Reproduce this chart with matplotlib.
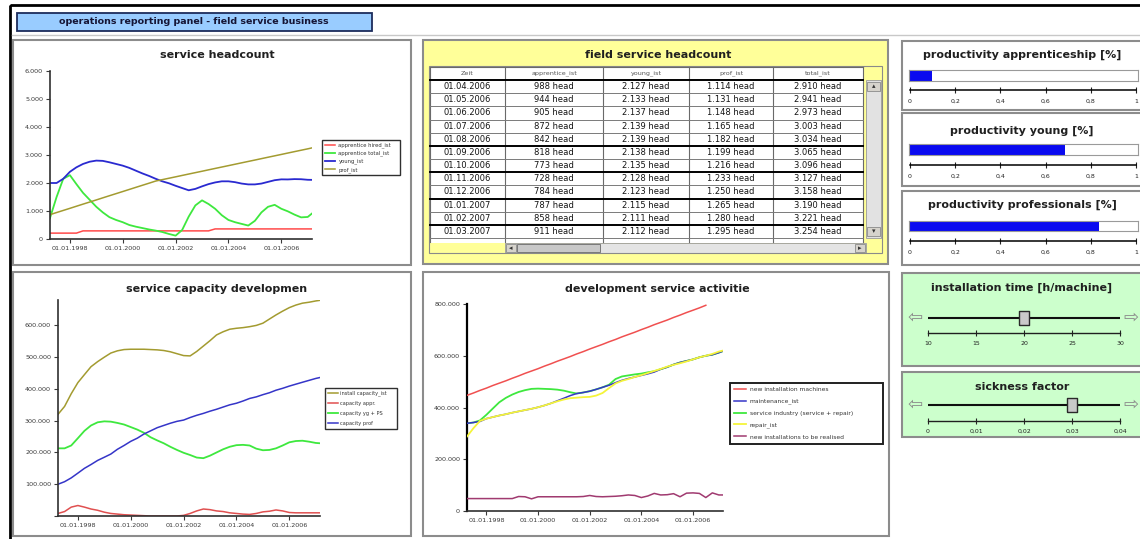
import numpy as np
import pandas as pd
import matplotlib
matplotlib.use('Agg')
import matplotlib.pyplot as plt
import matplotlib.dates as mdates
from matplotlib.patches import Rectangle
from matplotlib.ticker import FuncFormatter, MultipleLocator

# --- 1. Data ---
# quarterly reporting dates plus the last monthly close
dates = list(pd.date_range('1997-04-01', '2007-01-01', freq='QS')) + [pd.Timestamp('2007-03-01')]

# service headcount [head]
hc_appr_hired = [210, 210, 210, 210, 210, 290, 290, 290, 290, 290, 290, 290, 290, 290,
                 290, 290, 290, 290, 290, 290, 290, 290, 290, 290, 290, 360, 360, 360,
                 360, 360, 360, 360, 360, 360, 360, 360, 360, 360, 360, 360, 360]
hc_appr = [750, 1500, 2150, 2280, 1960, 1650, 1400, 1150, 950, 780, 680, 600, 500, 440,
           390, 340, 300, 250, 180, 120, 320, 800, 1200, 1380, 1250, 1080, 850, 680,
           600, 540, 480, 650, 950, 1150, 1220, 1080, 988, 872, 773, 787, 911]
hc_young = [2000, 2000, 2150, 2400, 2560, 2680, 2760, 2800, 2790, 2740, 2680, 2620, 2540,
            2440, 2340, 2250, 2150, 2060, 1990, 1900, 1820, 1740, 1790, 1880, 1960, 2020,
            2060, 2060, 2030, 1980, 1950, 1950, 1980, 2040, 2100, 2130, 2127, 2139, 2135,
            2115, 2112]
hc_prof = [870, 945, 1020, 1095, 1170, 1245, 1320, 1395, 1470, 1545, 1620, 1695, 1770,
           1845, 1920, 1995, 2070, 2120, 2170, 2220, 2270, 2320, 2370, 2420, 2470, 2520,
           2570, 2620, 2670, 2720, 2770, 2820, 2870, 2920, 2970, 3020, 3070, 3120, 3170,
           3220, 3254]

# service capacity development [thousand]
cap_install_k = [320, 345, 385, 420, 445, 470, 486, 500, 513, 520, 524, 525, 525, 525, 524,
                 523, 521, 517, 511, 505, 504, 518, 535, 552, 570, 580, 588, 591, 593, 596,
                 600, 607, 620, 633, 645, 656, 664, 670, 673, 677, 679]
cap_appr_k = [8, 14, 28, 33, 28, 22, 18, 12, 8, 6, 4, 3, 2, 1, 0, 0, 0, 0, 0, 2, 8, 16, 22,
              20, 16, 14, 10, 8, 6, 5, 8, 13, 15, 19, 16, 11, 10, 10, 10, 10, 10]
cap_young_k = [213, 213, 222, 245, 268, 285, 295, 298, 297, 293, 288, 280, 272, 262, 248,
               238, 229, 218, 208, 199, 192, 184, 182, 190, 200, 210, 218, 223, 224, 222,
               212, 207, 208, 213, 222, 232, 236, 237, 234, 230, 229]
cap_prof_k = [100, 108, 120, 135, 150, 162, 175, 185, 195, 210, 222, 235, 245, 258, 268,
              278, 285, 292, 298, 302, 310, 317, 323, 330, 336, 343, 350, 355, 362, 370,
              375, 382, 388, 396, 402, 409, 415, 421, 427, 433, 436]

# development service activities [thousand]
nan = np.nan
act_new_k = [447, 456, 466, 475, 485, 494, 503, 513, 522, 532, 541, 550, 560, 569, 579,
             588, 597, 607, 616, 626, 635, 644, 654, 663, 673, 682, 691, 701, 710, 720,
             729, 738, 748, 757, 767, 776, 785, 795, nan, nan, nan]
act_maint_k = [339, 342, 346, 357, 363, 369, 374, 380, 385, 390, 395, 401, 408, 416, 426,
               436, 446, 454, 458, 463, 470, 478, 486, 496, 505, 512, 518, 524, 530, 537,
               548, 556, 566, 574, 580, 586, 594, 600, 604, 612, 618]
act_service_k = [339, 342, 350, 372, 396, 420, 437, 450, 460, 467, 472, 473, 472, 471, 469,
                 465, 459, 454, 458, 463, 470, 478, 488, 510, 520, 524, 528, 531, 536, 540,
                 548, 556, 566, 574, 580, 586, 594, 600, 604, 612, 618]
act_repair_k = [288, 320, 348, 357, 363, 369, 374, 380, 385, 390, 395, 401, 408, 416, 424,
                431, 436, 438, 440, 441, 446, 456, 475, 493, 503, 510, 518, 525, 533, 541,
                549, 558, 565, 571, 578, 586, 594, 600, 607, 616, 620]
act_planned_k = [48, 48, 48, 48, 48, 48, 48, 48, 56, 55, 47, 55, 55, 55, 55, 55, 55, 55, 56,
                 60, 56, 55, 56, 57, 59, 62, 60, 52, 58, 68, 62, 63, 67, 55, 69, 70, 68, 52,
                 70, 62, 62]

# field service headcount table
tbl_header = ['Zeit', 'apprentice_ist', 'young_ist', 'prof_ist', 'total_ist']
tbl_dates = ['01.04.2006', '01.05.2006', '01.06.2006', '01.07.2006', '01.08.2006',
             '01.09.2006', '01.10.2006', '01.11.2006', '01.12.2006', '01.01.2007',
             '01.02.2007', '01.03.2007']
tbl_appr = [988, 944, 905, 872, 842, 818, 773, 728, 784, 787, 858, 911]
tbl_young = [2127, 2133, 2137, 2139, 2139, 2138, 2135, 2128, 2123, 2115, 2111, 2112]
tbl_prof = [1114, 1131, 1148, 1165, 1182, 1199, 1216, 1233, 1250, 1265, 1280, 1295]
tbl_total = [2910, 2941, 2973, 3003, 3034, 3065, 3096, 3127, 3158, 3190, 3221, 3254]

# productivity gauges (share 0..1) and parameter sliders
prod_names = ['productivity apprenticeship [%]', 'productivity young [%]',
              'productivity professionals [%]']
prod_values = [0.10, 0.68, 0.83]
install_time = 20           # h/machine, range 10..30
sickness_factor = 0.03      # range 0..0.04

# --- 2. Canvas ---
W, H = 1140, 539
fig = plt.figure(figsize=(W / 100, H / 100), dpi=100)
fig.patch.set_facecolor('white')

bg = fig.add_axes([0, 0, 1, 1])
bg.set_xlim(0, W)
bg.set_ylim(H, 0)
bg.axis('off')


def px_axes(x0, y0, x1, y1):
    return fig.add_axes([x0 / W, 1 - y1 / H, (x1 - x0) / W, (y1 - y0) / H])


def frame(x0, y0, x1, y1, fc='white', ec='#8c8c8c', lw=1.5):
    bg.add_patch(Rectangle((x0, y0), x1 - x0, y1 - y0, fc=fc, ec=ec, lw=lw))


def dotted(v, pos=None):
    return f"{v:,.0f}".replace(',', '.')


TITLE_KW = dict(fontsize=8, fontweight='bold', color='#202020', ha='center', va='center')
TICK_COL = '#3a3a3a'

# outer border, header banner and separator
bg.add_patch(Rectangle((10, 5), 1145, 545, fc='none', ec='black', lw=2))
bg.add_patch(Rectangle((17, 13), 355, 18, fc='#99ccff', ec='#1c2c5c', lw=1.3))
bg.text(194, 22, 'operations reporting panel - field service business', fontsize=6.8,
        fontweight='bold', color='#151535', ha='center', va='center')
bg.plot([12, 1140], [35, 35], color='#c8c8c8', lw=1)

# panel frames
frame(13, 40, 411, 265)
frame(423, 40, 888, 264, fc='#ffff99')
frame(13, 272, 411, 536)
frame(423, 272, 889, 536)
for y0, y1 in [(41, 110), (113, 186), (191, 265)]:
    frame(902, y0, 1150, y1)
for y0, y1 in [(273, 366), (372, 437)]:
    frame(902, y0, 1150, y1, fc='#ccffcc')

bg.text(217, 55, 'service headcount', **TITLE_KW)
bg.text(658, 55, 'field service headcount', **TITLE_KW)
bg.text(217, 289, 'service capacity developmen', **TITLE_KW)
bg.text(657, 289, 'development service activitie', **TITLE_KW)


def style_chart(ax, ymax, step, zero_label=True):
    ax.set_xlim(dates[0], dates[-1])
    ax.set_ylim(0, ymax)
    ax.yaxis.set_major_locator(MultipleLocator(step))
    ax.yaxis.set_major_formatter(
        FuncFormatter(lambda v, p: dotted(v) if (v > 0 or zero_label) else ''))
    ax.xaxis.set_major_locator(mdates.YearLocator(2))
    ax.xaxis.set_major_formatter(mdates.DateFormatter('%d.%m.%Y'))
    ax.patch.set_alpha(0)
    for s in ('top', 'right'):
        ax.spines[s].set_visible(False)
    for s in ('left', 'bottom'):
        ax.spines[s].set_color('#303030')
        ax.spines[s].set_linewidth(1.2)
    ax.tick_params(labelsize=4.6, colors=TICK_COL, length=3, width=0.8, pad=2)


def legend(ax, x0, y0, x1, fs, spacing):
    leg = ax.legend(loc='upper left', bbox_to_anchor=(x0 / W, 1 - y0 / H, (x1 - x0) / W, 0),
                    bbox_transform=fig.transFigure, mode='expand', fontsize=fs,
                    labelspacing=spacing, handlelength=2.0, handletextpad=0.6,
                    borderpad=0.5, fancybox=False, framealpha=1, borderaxespad=0)
    leg.get_frame().set_edgecolor('#303030')
    leg.get_frame().set_linewidth(1.0)
    for t in leg.get_texts():
        t.set_color('#333333')


# --- 3. Service headcount ---
ax1 = px_axes(50, 71, 312, 239)
ax1.plot(dates, hc_appr_hired, color='#ff4a4a', lw=1.1, label='apprentice hired_ist')
ax1.plot(dates, hc_appr, color='#3ee83e', lw=1.3, label='apprentice total_ist')
ax1.plot(dates, hc_young, color='#2a2ad0', lw=1.3, label='young_ist')
ax1.plot(dates, hc_prof, color='#a39b30', lw=1.1, label='prof_ist')
style_chart(ax1, 6000, 1000)
legend(ax1, 322, 140, 400, 3.8, 0.45)

# --- 4. Service capacity development ---
ax4 = px_axes(58, 300, 320, 516)
ax4.plot(dates, np.array(cap_install_k) * 1000, color='#a39b30', lw=1.1,
         label='install capacity_ist')
ax4.plot(dates, np.array(cap_appr_k) * 1000, color='#e05050', lw=1.1, label='capacity appr.')
ax4.plot(dates, np.array(cap_young_k) * 1000, color='#3ee83e', lw=1.3, label='capacity yg + PS')
ax4.plot(dates, np.array(cap_prof_k) * 1000, color='#3535c8', lw=1.1, label='capacity prof')
style_chart(ax4, 680000, 100000, zero_label=False)
legend(ax4, 325, 388, 397, 3.6, 1.0)

# --- 5. Development service activities ---
ax5 = px_axes(467, 304, 723, 511)
l_new, = ax5.plot(dates, np.array(act_new_k) * 1000, color='#f05050', lw=1.1, zorder=5,
                  label='new installation machines')
l_serv, = ax5.plot(dates, np.array(act_service_k) * 1000, color='#3ee83e', lw=1.3, zorder=2,
                   label='service industry (service + repair)')
l_maint, = ax5.plot(dates, np.array(act_maint_k) * 1000, color='#3535c8', lw=1.1, zorder=3,
                    label='maintenance_ist')
l_rep, = ax5.plot(dates, np.array(act_repair_k) * 1000, color='#f4f43a', lw=1.3, zorder=4,
                  label='repair_ist')
l_plan, = ax5.plot(dates, np.array(act_planned_k) * 1000, color='#a03a70', lw=1.1, zorder=5,
                   label='new installations to be realised')
style_chart(ax5, 800000, 200000)
ax5.spines['left'].set_color('black')
ax5.spines['left'].set_linewidth(1.6)
leg5 = ax5.legend(handles=[l_new, l_maint, l_serv, l_rep, l_plan], loc='upper left',
                  bbox_to_anchor=(730 / W, 1 - 383 / H, 153 / W, 0),
                  bbox_transform=fig.transFigure, mode='expand', fontsize=4.3,
                  labelspacing=1.05, handlelength=2.0, handletextpad=0.6, borderpad=0.7,
                  fancybox=False, framealpha=1, borderaxespad=0)
leg5.get_frame().set_edgecolor('#202020')
leg5.get_frame().set_linewidth(1.4)
for t in leg5.get_texts():
    t.set_color('#333333')

# --- 6. Field service headcount table ---
col_edges = [430, 505, 603, 689, 773, 863]
top, head_h, row_h = 67, 13, 13.17
rows_bottom = top + head_h + row_h * len(tbl_dates)
bg.add_patch(Rectangle((430, top), 433, 243 - top, fc='white', ec='none'))
# vertical scrollbar
bg.add_patch(Rectangle((866, 80), 15, rows_bottom - 80, fc='#e2e2e2', ec='#9a9a9a', lw=0.6))
for yb in (82, rows_bottom - 11):
    bg.add_patch(Rectangle((867, yb), 13, 9, fc='#d6d3cc', ec='#8a8a8a', lw=0.6))
bg.text(873.5, 86.5, '▴', fontsize=5, ha='center', va='center', color='#333')
bg.text(873.5, rows_bottom - 6.5, '▾', fontsize=5, ha='center', va='center', color='#333')
# horizontal scrollbar
bg.add_patch(Rectangle((505, 243), 361, 10, fc='#e4e4e4', ec='#9a9a9a', lw=0.6))
bg.add_patch(Rectangle((506, 244), 10, 8, fc='#d6d3cc', ec='#8a8a8a', lw=0.6))
bg.add_patch(Rectangle((517, 244), 83, 8, fc='#c8c8c8', ec='#6a6a6a', lw=0.6))
bg.add_patch(Rectangle((855, 244), 10, 8, fc='#d6d3cc', ec='#8a8a8a', lw=0.6))
bg.text(511, 248, '◂', fontsize=5, ha='center', va='center', color='#333')
bg.text(860, 248, '▸', fontsize=5, ha='center', va='center', color='#333')
bg.add_patch(Rectangle((429, 66), 453, 187, fc='none', ec='#8a8a8a', lw=0.8))

for x in col_edges:
    bg.plot([x, x], [top, rows_bottom + 4], color='#6a6a6a', lw=0.8)
bg.plot([430, 863], [top, top], color='#6a6a6a', lw=0.8)
thick_after = {0, 5, 7, 9, 11}
for k in range(len(tbl_dates) + 1):
    y = top + head_h + row_h * k
    if k in thick_after:
        bg.plot([430, 863], [y, y], color='black', lw=1.4)
    else:
        bg.plot([430, 863], [y, y], color='#7a7a7a', lw=0.7)

centers = [(a + b) / 2 for a, b in zip(col_edges[:-1], col_edges[1:])]
for c, name in zip(centers, tbl_header):
    bg.text(c, top + head_h / 2, name, fontsize=4.6, color='#555555', ha='center', va='center')
for r, row in enumerate(zip(tbl_dates, tbl_appr, tbl_young, tbl_prof, tbl_total)):
    y = top + head_h + row_h * (r + 0.5)
    cells = [row[0]] + [f"{dotted(v)} head" for v in row[1:]]
    for c, txt in zip(centers, cells):
        bg.text(c, y, txt, fontsize=6, color='#141414', ha='center', va='center')

# --- 7. Productivity gauges ---
gauge_rows = [(55, 70, 81, 90), (131, 144, 155, 165), (205, 221, 231, 241)]
for name, val, (ty, b0, b1, sy) in zip(prod_names, prod_values, gauge_rows):
    bg.text(1022, ty, name, **TITLE_KW)
    axb = px_axes(909, b0, 1138, b1)
    axb.barh(0, val, height=1, color='#0a0af0')
    axb.set_xlim(0, 1)
    axb.set_ylim(-0.5, 0.5)
    axb.set_xticks([])
    axb.set_yticks([])
    for s in axb.spines.values():
        s.set_color('#9a9a9a')
        s.set_linewidth(0.8)
    axs = px_axes(910, sy - 0.5, 1136, sy)
    axs.set_xlim(0, 1)
    axs.set_xticks([0, 0.2, 0.4, 0.6, 0.8, 1.0])
    axs.xaxis.set_major_formatter(FuncFormatter(lambda v, p: f"{v:g}".replace('.', ',')))
    axs.set_yticks([])
    axs.patch.set_alpha(0)
    for s in ('top', 'left', 'right'):
        axs.spines[s].set_visible(False)
    axs.spines['bottom'].set_linewidth(1.1)
    axs.tick_params(axis='x', direction='inout', length=5, width=0.8, labelsize=4.5,
                    pad=4, colors='#222222')

# --- 8. Parameter sliders ---
slider_rows = [
    ('installation time [h/machine]', install_time, (10, 30), [10, 15, 20, 25, 30], 288, 318, 333),
    ('sickness factor', sickness_factor, (0, 0.04), [0, 0.01, 0.02, 0.03, 0.04], 387, 405, 421),
]
thumb = [(-0.37, -0.5), (0.37, -0.5), (0.37, 0.5), (-0.37, 0.5), (-0.37, -0.5)]
for name, val, (lo, hi), ticks, ty, ly, sy in slider_rows:
    bg.text(1022, ty, name, **TITLE_KW)
    bg.text(915, ly, '⇦', fontsize=13, color='#8c8c8c', ha='center', va='center')
    bg.text(1131, ly, '⇨', fontsize=13, color='#8c8c8c', ha='center', va='center')
    axl = px_axes(928, 2 * ly - sy, 1120, sy)
    axl.set_xlim(lo, hi)
    axl.set_ylim(0, 1)
    axl.plot([lo, hi], [0.5, 0.5], color='#101010', lw=1.5, solid_capstyle='butt')
    axl.plot([val], [0.5], marker=thumb, markersize=10, markerfacecolor='#c9c9c9',
             markeredgecolor='#2a2a2a', markeredgewidth=1.0)
    axl.set_xticks(ticks)
    axl.xaxis.set_major_formatter(FuncFormatter(lambda v, p: f"{v:g}".replace('.', ',')))
    axl.set_yticks([])
    axl.patch.set_alpha(0)
    for s in ('top', 'left', 'right'):
        axl.spines[s].set_visible(False)
    axl.spines['bottom'].set_linewidth(1.0)
    axl.spines['bottom'].set_color('#202020')
    axl.tick_params(axis='x', direction='inout', length=5, width=0.8, labelsize=4.5,
                    pad=3, colors='#222222')

fig.savefig('out.png', dpi=100)
